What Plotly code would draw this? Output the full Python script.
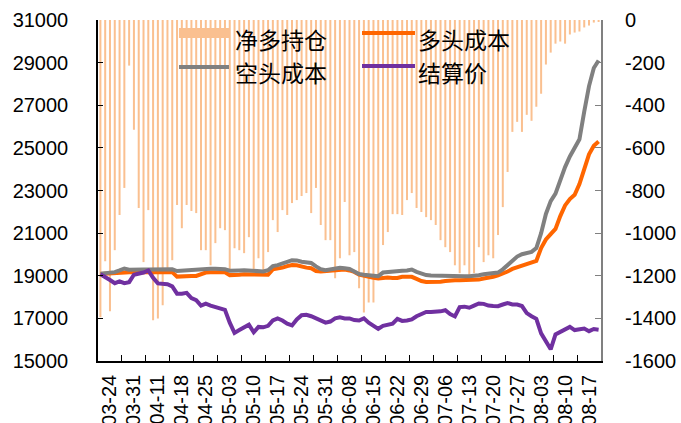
import plotly.graph_objects as go

dates = [
    "03-24", "03-27", "03-28", "03-29", "03-30",
    "03-31", "04-05", "04-06", "04-07", "04-10",
    "04-11", "04-12", "04-13", "04-14", "04-17",
    "04-18", "04-19", "04-20", "04-21", "04-24",
    "04-25", "04-26", "04-27", "04-28", "05-02",
    "05-03", "05-04", "05-05", "05-08", "05-09",
    "05-10", "05-11", "05-12", "05-15", "05-16",
    "05-17", "05-18", "05-19", "05-22", "05-23",
    "05-24", "05-25", "05-26", "05-29", "05-30",
    "05-31", "06-01", "06-02", "06-05", "06-06",
    "06-08", "06-09", "06-12", "06-13", "06-14",
    "06-15", "06-16", "06-19", "06-20", "06-21",
    "06-22", "06-23", "06-26", "06-27", "06-28",
    "06-29", "06-30", "07-03", "07-04", "07-05",
    "07-06", "07-07", "07-10", "07-11", "07-12",
    "07-13", "07-14", "07-17", "07-18", "07-19",
    "07-20", "07-21", "07-24", "07-25", "07-26",
    "07-27", "07-28", "07-31", "08-01", "08-02",
    "08-03", "08-04", "08-07", "08-08", "08-09",
    "08-10", "08-11", "08-14", "08-15", "08-16",
    "08-17", "08-18", "08-21", "08-22", "08-23",
]

net_long = [
    -1395, -1132, -1367, -1080, -915, -788, -214, -515, -882, -1136,
    -892, -1409, -1400, -1339, -1174, -1127, -868, -977, -868, -896,
    -906, -1080, -1080, -1151, -1047, -977, -986, -1174, -1071, -1080,
    -1094, -1019, -1174, -1118, -1174, -1089, -939, -995, -892, -915,
    -859, -845, -826, -812, -906, -788, -962, -1033, -1033, -1212,
    -1118, -854, -1104, -1089, -1259, -1372, -1325, -1325, -1198, -1056,
    -995, -911, -911, -915, -845, -812, -882, -901, -925, -939,
    -962, -1033, -1066, -1089, -1151, -1188, -1151, -1198, -1188, -1066,
    -1136, -1104, -1118, -1009, -878, -713, -525, -478, -525, -445,
    -473, -407, -346, -209, -153, -111, -101, -111, -68, -59,
    -54, -35, -26, -12, -7,
]

long_cost = [
    19080, 19100, 19120, 19150, 19160, 19170, 19170, 19180, 19180, 19180,
    19180, 19190, 19190, 19190, 19180, 19170, 18960, 18980, 18980, 18990,
    18990, 19080, 19150, 19160, 19160, 19170, 19160, 19030, 19020, 19050,
    19070, 19060, 19070, 19080, 19060, 19050, 19300, 19330, 19380, 19450,
    19500, 19490, 19410, 19380, 19350, 19220, 19200, 19220, 19230, 19280,
    19300, 19290, 19250, 19180, 19050, 18990, 18950, 18900, 18870, 18900,
    18920, 18900, 18900, 18950, 18960, 18950, 18850, 18750, 18710, 18700,
    18700, 18720, 18750, 18780, 18790, 18790, 18790, 18790, 18790, 18820,
    18870, 18900, 18950, 19020, 19100, 19200, 19320, 19400, 19460, 19530,
    19600, 19700, 20300, 20700, 20950, 21200, 21800, 22300, 22600, 22800,
    23300, 24000, 24700, 25100, 25300,
]

short_cost = [
    19100, 19130, 19150, 19170, 19250, 19340, 19280, 19270, 19280, 19290,
    19290, 19300, 19310, 19310, 19310, 19300, 19220, 19240, 19260, 19260,
    19270, 19300, 19320, 19330, 19330, 19320, 19310, 19240, 19230, 19250,
    19260, 19240, 19250, 19230, 19200, 19260, 19450, 19500, 19560, 19650,
    19730, 19720, 19660, 19640, 19600, 19440, 19310, 19260, 19300, 19330,
    19370, 19350, 19320, 19200, 19080, 19050, 19020, 18990, 18980, 19150,
    19180, 19180, 19200, 19230, 19250, 19290, 19180, 19080, 19030, 19010,
    19000, 19000, 19000, 18990, 19000, 18990, 18980, 18980, 18980, 19020,
    19070, 19090, 19110, 19150, 19300, 19500, 19760, 19900, 20010, 20050,
    20120, 20300, 21000, 21900, 22500, 22850, 23500, 24100, 24600, 25000,
    25400, 26700, 27900, 28750, 29100,
]

settle = [
    19070, 18950, 18800, 18650, 18740, 18650, 18700, 19050, 19100, 19150,
    19250, 18900, 18640, 18640, 18600, 18500, 18160, 18160, 18200, 17950,
    17850, 17600, 17690, 17600, 17530, 17500, 17400, 16800, 16320, 16450,
    16550, 16700, 16350, 16600, 16580, 16650, 16900, 17000, 16900, 16750,
    16670, 16950, 17150, 17170, 17100, 17000, 16900, 16800, 16850, 17000,
    17050, 17000, 17000, 16920, 16900, 17000, 16800, 16650, 16510, 16650,
    16720, 16750, 16980, 16880, 16900, 16950, 17100, 17200, 17300, 17300,
    17300, 17330, 17380, 17200, 17090, 17530, 17550, 17500, 17600, 17700,
    17680, 17600, 17580, 17570, 17650, 17720, 17650, 17650, 17580, 17250,
    17100, 16980, 16300, 15950, 15550, 16250, 16350, 16500, 16600, 16450,
    16500, 16520, 16400, 16500, 16470,
]

left_ticks = list(range(15000, 31001, 2000))
right_ticks = list(range(-1600, 1, 200))

names = ["净多持仓", "多头成本", "空头成本", "结算价"]
colors = {"bar": "#FAC090", "long": "#FF6600", "short": "#808080", "settle": "#7030A0"}

N = len(dates)
xi = list(range(N))
label_step = 5
tick_pos = [i + (label_step - 1) / 2 for i in range(0, N, label_step)]
tick_txt = [dates[i] for i in range(0, N, label_step)]
minor_pos = [i - 0.5 for i in range(label_step, N, label_step)]

fig = go.Figure()
fig.add_trace(go.Bar(x=xi, y=net_long, name=names[0], marker_color=colors["bar"],
                     marker_line_width=0, customdata=dates, yaxis="y"))
fig.add_trace(go.Scatter(x=xi, y=long_cost, name=names[1], mode="lines",
                         line=dict(color=colors["long"], width=4), yaxis="y2", customdata=dates))
fig.add_trace(go.Scatter(x=xi, y=short_cost, name=names[2], mode="lines",
                         line=dict(color=colors["short"], width=4), yaxis="y2", customdata=dates))
fig.add_trace(go.Scatter(x=xi, y=settle, name=names[3], mode="lines",
                         line=dict(color=colors["settle"], width=4), yaxis="y2", customdata=dates))

L, R, T, B = 98, 80, 20, 62
W, H = 681, 423
pw, ph = W - L - R, H - T - B


def px(xp):
    return (xp - L) / pw


def py(yp):
    return (H - B - yp) / ph


tick_font = dict(family="Liberation Sans, Arial, sans-serif", size=20, color="black")

fig.update_layout(
    width=W, height=H,
    margin=dict(l=L, r=R, t=T, b=B, autoexpand=False),
    paper_bgcolor="white", plot_bgcolor="white",
    showlegend=False,
    bargap=0.58,
    xaxis=dict(range=[-0.5, N - 0.5], tickmode="array", tickvals=tick_pos, ticktext=tick_txt,
               tickangle=-90, ticks="", showgrid=False, zeroline=False,
               showline=True, linecolor="black", linewidth=1.5, tickfont=tick_font,
               ticklabelstandoff=4, automargin=False,
               minor=dict(tickmode="array", tickvals=minor_pos, ticks="inside",
                          ticklen=6, tickcolor="black", tickwidth=1, showgrid=False)),
    yaxis=dict(side="right", range=[-1600, 0], tickmode="array", tickvals=right_ticks,
               ticktext=[str(v) for v in right_ticks],
               showgrid=False, zeroline=False, showline=True, linecolor="#808080",
               linewidth=2, ticks="inside", ticklen=6, tickcolor="#808080",
               tickfont=tick_font, ticklabelstandoff=18, automargin=False),
    yaxis2=dict(side="left", overlaying="y", range=[15000, 31000], tickmode="array",
                tickvals=left_ticks, ticktext=[str(v) for v in left_ticks],
                showgrid=False, zeroline=False, showline=True,
                linecolor="black", linewidth=1.5, ticks="inside", ticklen=5,
                tickcolor="black", tickfont=tick_font, ticklabelstandoff=24,
                automargin=False),
)

# legend drawn as shapes + text
leg_font = dict(family="Noto Sans CJK SC", size=23, color="black")
shapes = [
    dict(type="rect", xref="paper", yref="paper", x0=px(179), x1=px(229), y0=py(38), y1=py(28),
         fillcolor=colors["bar"], line=dict(width=0)),
    dict(type="line", xref="paper", yref="paper", x0=px(179), x1=px(229), y0=py(67), y1=py(67),
         line=dict(color=colors["short"], width=4)),
    dict(type="line", xref="paper", yref="paper", x0=px(362), x1=px(415), y0=py(33), y1=py(33),
         line=dict(color=colors["long"], width=4)),
    dict(type="line", xref="paper", yref="paper", x0=px(362), x1=px(415), y0=py(66), y1=py(66),
         line=dict(color=colors["settle"], width=4)),
]
ann = [
    dict(text=names[0], x=px(233), y=py(39)),
    dict(text=names[2], x=px(233), y=py(72)),
    dict(text=names[1], x=px(416), y=py(39)),
    dict(text=names[3], x=px(416), y=py(72)),
]
for a in ann:
    a.update(xref="paper", yref="paper", xanchor="left", yanchor="middle",
             showarrow=False, font=leg_font)
fig.update_layout(shapes=shapes, annotations=ann)

fig.write_html("out.html", config={"displayModeBar": False},
               post_script="document.body.style.margin='0px';")
